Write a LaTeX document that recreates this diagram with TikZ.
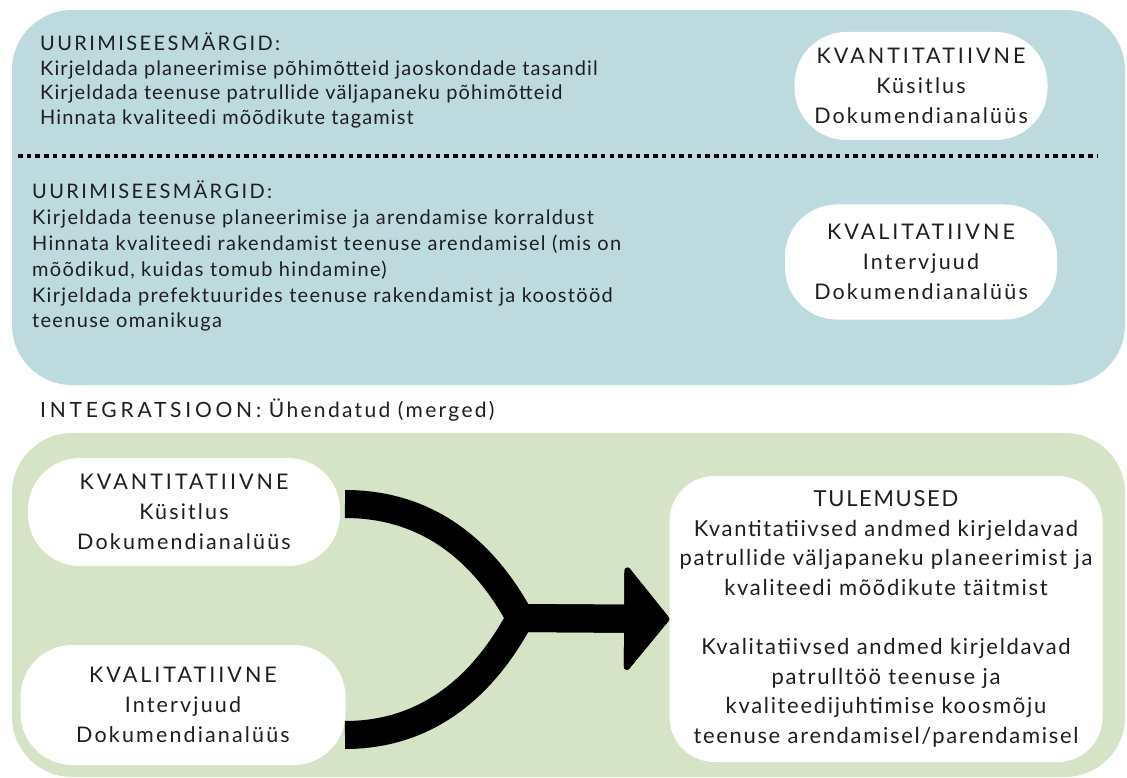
\documentclass[tikz,border=0pt]{standalone}
\usepackage{fontspec}
\setmainfont{Lato}
\usetikzlibrary{arrows.meta}
\definecolor{panelblue}{RGB}{189,218,223}
\definecolor{panelgreen}{RGB}{213,228,199}
\definecolor{ink}{RGB}{30,30,30}
\newcommand\capsword[2][14]{{\addfontfeature{LetterSpace=#1}#2}}
\tikzset{
  panel/.style={rounded corners=60pt},
  goals/.style={align=left, anchor=north west, inner sep=0pt, text=ink,
    font=\fontsize{20}{24.5}\selectfont\addfontfeature{LetterSpace=5.5}},
  pill/.style={fill=white, rounded corners=52pt, align=center, inner sep=0pt, text=ink,
    font=\fontsize{21.5}{30}\selectfont\addfontfeature{LetterSpace=10}},
  dotrule/.style={line width=4.5pt, dash pattern=on 4.5pt off 4.2pt},
  flow/.style={line width=28pt, line join=round,
    -{Triangle[width=112pt,length=46pt,line width=6pt,round]}}
}
\begin{document}
\begin{tikzpicture}[x=1pt,y=-1pt]
  \useasboundingbox (0,0) rectangle (1127,778);
  \fill[panelblue, panel] (12,10) rectangle (1125,385);
  \fill[panelgreen, panel] (12,433) rectangle (1125,777);
  \draw[dotrule] (18,156) -- (1098,156);

  \node[goals] (goalsA) at (40,33)
    {\capsword[12]{UURIMISEESMÄRGID:}\\
     Kirjeldada planeerimise põhimõtteid jaoskondade tasandil\\
     Kirjeldada teenuse patrullide väljapaneku põhimõtteid\\
     Hinnata kvaliteedi mõõdikute tagamist};
  \node[goals, font=\fontsize{20}{25.8}\selectfont\addfontfeature{LetterSpace=6.5}] (goalsB) at (32,181)
    {\capsword[12]{UURIMISEESMÄRGID:}\\
     Kirjeldada teenuse planeerimise ja arendamise korraldust\\
     Hinnata kvaliteedi rakendamist teenuse arendamisel (mis on\\
     mõõdikud, kuidas tomub hindamine)\\
     Kirjeldada prefektuurides teenuse rakendamist ja koostööd\\
     teenuse omanikuga};

  \node[pill, minimum width=253pt, minimum height=108pt] (quantA) at (921,86)
    {\capsword{KVANTITATIIVNE}\\Küsitlus\\Dokumendianalüüs};
  \node[pill, minimum width=272pt, minimum height=115pt] (qualA) at (921,262)
    {\capsword{KVALITATIIVNE}\\Intervjuud\\Dokumendianalüüs};

  \node[goals, anchor=west, font=\fontsize{21}{24}\selectfont\addfontfeature{LetterSpace=11}] (integ) at (40,410)
    {\capsword[18]{INTEGRATSIOON:} Ühendatud (merged)};

  \node[pill, minimum width=312pt, minimum height=108pt] (quantB) at (184,512)
    {\capsword{KVANTITATIIVNE}\\Küsitlus\\Dokumendianalüüs};
  \node[pill, minimum width=325pt, minimum height=120pt] (qualB) at (183,705)
    {\capsword{KVALITATIIVNE}\\Intervjuud\\Dokumendianalüüs};
  \node[pill, rounded corners=45pt, minimum width=433pt, minimum height=286pt,
    font=\fontsize{22}{29.6}\selectfont\addfontfeature{LetterSpace=7.6}] (res) at (886,619)
    {TULEMUSED\\
     Kvantitatiivsed andmed kirjeldavad\\
     patrullide väljapaneku planeerimist ja\\
     kvaliteedi mõõdikute täitmist\\[29.6pt]
     Kvalitatiivsed andmed kirjeldavad\\
     patrulltöö teenuse ja\\
     kvaliteedijuhtimise koosmõju\\
     teenuse arendamisel/parendamisel};

  \coordinate (in1) at (345,504);
  \coordinate (in2) at (345,735);
  \coordinate (mrg) at (520,618);
  \draw[flow] (in1) .. controls (440,504) and (492,566) .. (mrg) -- (res.west);
  \draw[flow] (in2) .. controls (440,735) and (492,670) .. (mrg) -- (res.west);
\end{tikzpicture}
\end{document}
